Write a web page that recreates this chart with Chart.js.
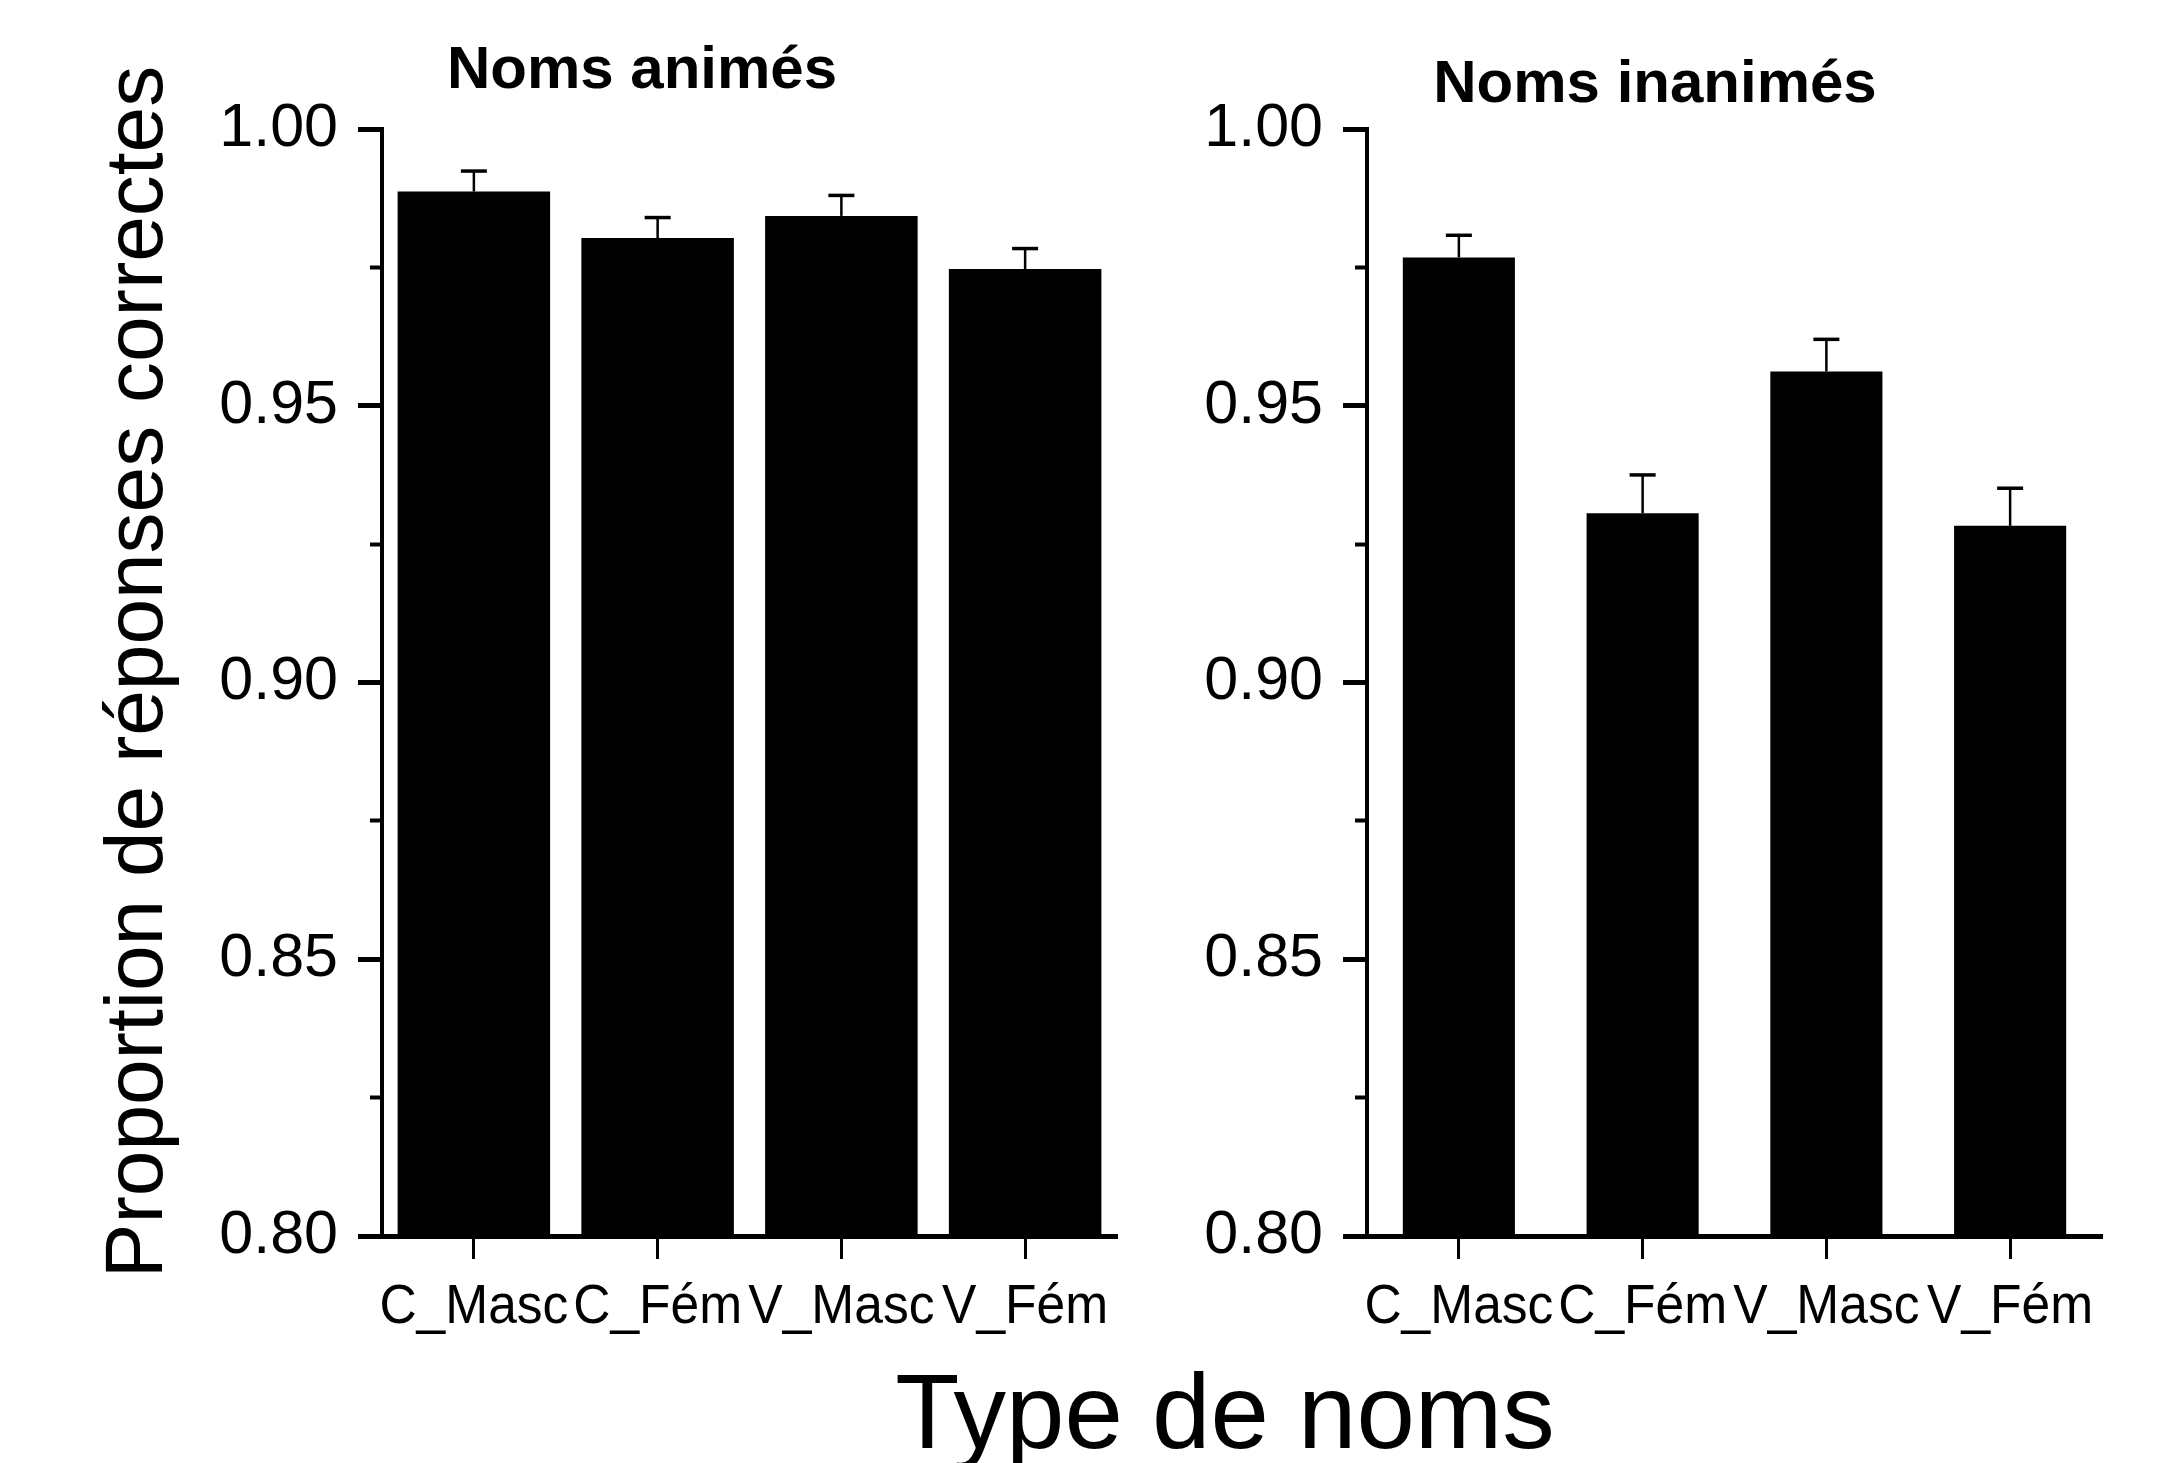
<!DOCTYPE html>
<html>
<head>
<meta charset="utf-8">
<script src="https://cdn.jsdelivr.net/npm/chart.js@4.4.1/dist/chart.umd.min.js"></script>
<style>
  html, body { margin: 0; padding: 0; background: #fff; }
  #wrap { position: relative; width: 2157px; height: 1463px; }
  #wrap canvas { position: absolute; left: 0; top: 0; }
</style>
</head>
<body>
<div id="wrap">
  <canvas id="chart-animes" width="2157" height="1463"></canvas>
  <canvas id="chart-inanimes" width="2157" height="1463"></canvas>
</div>
<script>
'use strict';

// data
var categories = ['C_Masc', 'C_Fém', 'V_Masc', 'V_Fém'];
var animes = [0.9887, 0.9803, 0.9843, 0.9747];
var animesErr = [0.0037, 0.0037, 0.0037, 0.0037];
var inanimes = [0.9768, 0.9306, 0.9562, 0.9283];
var inanimesErr = [0.0040, 0.0069, 0.0058, 0.0068];
var yTicks = [0.80, 0.85, 0.90, 0.95, 1.00];

var FONT = '"Liberation Sans", Arial, Helvetica, sans-serif';
Chart.defaults.font.family = FONT;
Chart.defaults.color = '#000';

// upper error bars on top of each bar
var errorBars = {
  id: 'errorBars',
  afterDatasetsDraw: function(chart) {
    var ctx = chart.ctx, y = chart.scales.y;
    var ds = chart.data.datasets[0];
    chart.getDatasetMeta(0).data.forEach(function(bar, i) {
      var top = y.getPixelForValue(ds.data[i] + ds.errors[i]);
      ctx.save();
      ctx.strokeStyle = '#000';
      ctx.lineWidth = 2.5;
      ctx.beginPath();
      ctx.moveTo(bar.x, bar.y);
      ctx.lineTo(bar.x, top);
      ctx.stroke();
      ctx.lineWidth = 3.5;
      ctx.beginPath();
      ctx.moveTo(bar.x - 13, top);
      ctx.lineTo(bar.x + 13, top);
      ctx.stroke();
      ctx.restore();
    });
  }
};

// category labels (slightly condensed, as in the original), panel titles, axis titles
var labels = {
  id: 'labels',
  afterDraw: function(chart, args, opts) {
    var ctx = chart.ctx, xs = chart.scales.x;
    ctx.save();
    ctx.fillStyle = '#000';
    ctx.textAlign = 'center';
    ctx.textBaseline = 'alphabetic';

    ctx.font = '56px ' + FONT;
    chart.data.labels.forEach(function(lab, i) {
      ctx.save();
      ctx.translate(xs.getPixelForTick(i), 1323);
      ctx.scale(0.92, 1);
      ctx.fillText(lab, 0, 0);
      ctx.restore();
    });

    ctx.font = 'bold 60px ' + FONT;
    ctx.fillText(opts.title, opts.titleX, opts.titleY);
    if (opts.shared) {
      ctx.font = '105px ' + FONT;
      ctx.fillText('Type de noms', 1225, 1448);
      ctx.translate(162, 672);
      ctx.rotate(-Math.PI / 2);
      ctx.font = '82px ' + FONT;
      ctx.fillText('Proportion de réponses correctes', 0, 0);
    }
    ctx.restore();
  }
};

function makeChart(id, values, errs, opts) {
  var canvas = document.getElementById(id);
  return new Chart(canvas, {
    type: 'bar',
    data: {
      labels: categories,
      datasets: [{
        data: values,
        errors: errs,
        backgroundColor: '#000',
        borderWidth: 0,
        barPercentage: opts.barPct,
        categoryPercentage: 1
      }]
    },
    options: {
      responsive: false,
      animation: false,
      layout: { padding: { top: 129, right: opts.padRight, bottom: 0, left: 0 } },
      plugins: {
        legend: { display: false },
        tooltip: { enabled: false },
        labels: { title: opts.title, titleX: opts.titleX, titleY: opts.titleY, shared: opts.shared }
      },
      scales: {
        x: {
          offset: true,
          grid: { offset: false, drawOnChartArea: false, tickLength: 23, tickWidth: 3, tickColor: '#000' },
          border: { display: true, color: '#000', width: 5 },
          ticks: { display: false, autoSkip: false },
          afterFit: function(s) { s.height = 227; }
        },
        y: {
          min: 0.80,
          max: 1.00,
          weight: 2,
          afterBuildTicks: function(s) { s.ticks = yTicks.map(function(v) { return { value: v }; }); },
          grid: { drawOnChartArea: false, tickLength: 24, tickWidth: 5, tickColor: '#000' },
          border: { display: true, color: '#000', width: 4 },
          ticks: { font: { size: 61 }, padding: 20, callback: function(v) { return Number(v).toFixed(2); } },
          afterFit: function(s) { s.width = opts.yWidth; }
        },
        yMinor: {
          position: 'left',
          min: 0.80,
          max: 1.00,
          weight: 0,
          ticks: { display: false, stepSize: 0.025 },
          grid: { drawOnChartArea: false, tickLength: 12, tickWidth: 4, tickColor: '#000' },
          border: { display: false },
          afterFit: function(s) { s.width = 0; }
        }
      }
    },
    plugins: [errorBars, labels]
  });
}

makeChart('chart-animes', animes, animesErr, {
  barPct: 0.83, padRight: 2157 - 1117, yWidth: 382,
  title: 'Noms animés', titleX: 642, titleY: 88, shared: true
});
makeChart('chart-inanimes', inanimes, inanimesErr, {
  barPct: 0.61, padRight: 2157 - 2102, yWidth: 1367,
  title: 'Noms inanimés', titleX: 1655, titleY: 102, shared: false
});
</script>
</body>
</html>
